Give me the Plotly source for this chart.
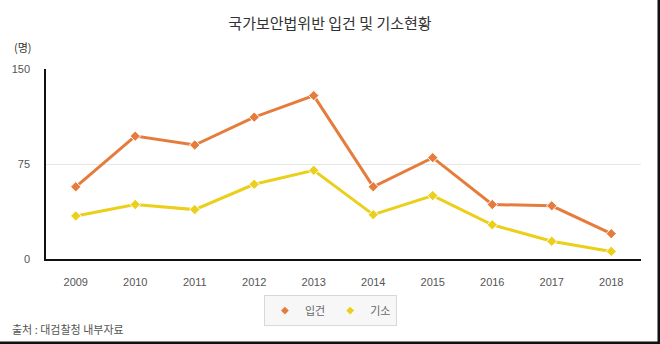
import plotly.graph_objects as go

years = ["2009", "2010", "2011", "2012", "2013", "2014", "2015", "2016", "2017", "2018"]
indicted = [57, 97, 90, 112, 129, 57, 80, 43, 42, 20]
prosecuted = [34, 43, 39, 59, 70, 35, 50, 27, 14, 6]
series_names = ["입건", "기소"]
y_ticks = [0, 75, 150]

ORANGE = "#E67C3B"
YELLOW = "#EBCF1A"
KR = "Noto Sans CJK KR, Noto Sans, sans-serif"
NUM = "Liberation Sans, Arial, sans-serif"

fig = go.Figure()
for name, vals, col in [(series_names[0], indicted, ORANGE), (series_names[1], prosecuted, YELLOW)]:
    fig.add_trace(go.Scatter(
        x=years, y=vals, mode="lines+markers", name=name, showlegend=False,
        line=dict(color=col, width=3),
        marker=dict(symbol="diamond", size=8, color=col, line=dict(color="white", width=1)),
        hoverinfo="x+y+name",
    ))
    fig.add_trace(go.Scatter(
        x=[None], y=[None], mode="markers", name=name,
        marker=dict(symbol="diamond", size=6, color=col),
    ))

fig.update_layout(
    width=660, height=344,
    margin=dict(l=46, r=19, t=69, b=85),
    paper_bgcolor="white", plot_bgcolor="white",
    title=dict(text="국가보안법위반 입건 및 기소현황", x=0.5, xanchor="center",
               y=1 - 24 / 344, yanchor="middle",
               font=dict(family=KR, size=15, color="#333333")),
    xaxis=dict(type="category", range=[-0.5, 9.5], showgrid=False, showline=True,
               linecolor="#111111", linewidth=1.5, ticks="", mirror=False,
               tickfont=dict(family=NUM, size=11, color="#555555"), ticklabelstandoff=12),
    yaxis=dict(range=[0, 150], tickvals=y_ticks, showgrid=True, gridcolor="#E6E6E6",
               gridwidth=1, showline=True, linecolor="#111111", linewidth=1.5,
               zeroline=False, ticks="", ticklabelstandoff=12,
               tickfont=dict(family=NUM, size=11, color="#555555")),
    legend=dict(orientation="h", x=0.478, xanchor="center", y=-0.19, yanchor="top",
                bgcolor="#F7F7F7", bordercolor="#D8D8D8", borderwidth=1,
                font=dict(family=KR, size=11, color="#666666"),
                itemwidth=30, tracegroupgap=0),
    showlegend=True,
)

fig.add_annotation(text="(명)", xref="paper", yref="paper", x=-46 / 595, xanchor="left",
                   y=1 + 22 / 190, yanchor="middle", showarrow=False,
                   font=dict(family=KR, size=11, color="#333333"), xshift=12)
fig.add_annotation(text="출처 : 대검찰청 내부자료", xref="paper", yref="paper", x=-46 / 595,
                   xanchor="left", y=-(329 - 259) / 190, yanchor="middle", showarrow=False,
                   font=dict(family=KR, size=11, color="#555555"), xshift=10)

# image frame lines on right and bottom edges
fig.add_shape(type="line", xref="paper", yref="paper", x0=-46 / 595, x1=1 + 19 / 595,
              y0=-84 / 190, y1=-84 / 190, line=dict(color="#111111", width=3))
fig.add_shape(type="line", xref="paper", yref="paper", x0=1 + 18 / 595, x1=1 + 18 / 595,
              y0=-85 / 190, y1=1 + 69 / 190, line=dict(color="#111111", width=3))

fig.write_html("out.html")
